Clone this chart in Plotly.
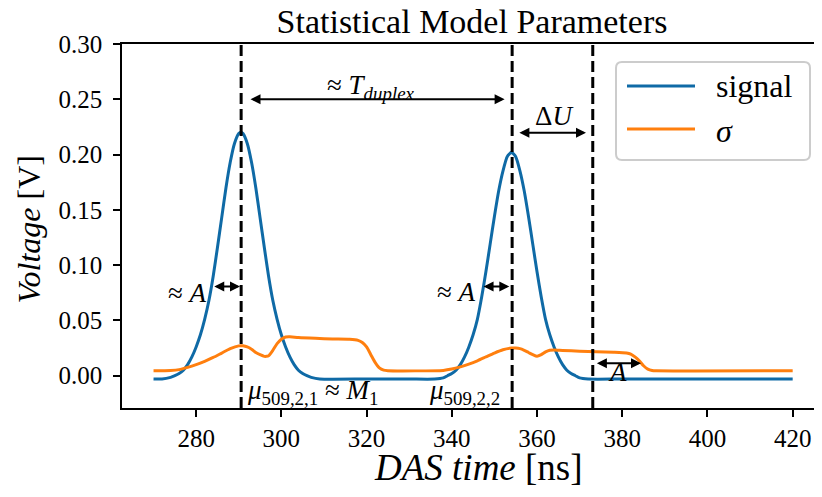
import plotly.graph_objects as go

# ---------------- data ----------------
signal_t = [270, 272, 274, 275, 276, 277, 278, 279, 280, 281, 282, 283, 284, 285, 286, 287, 288, 289,
            290, 290.5, 291, 292, 293, 294, 295, 296, 297, 298, 299, 300, 301, 302, 303, 304, 305, 306,
            307, 309, 320, 330, 336, 338, 339, 340, 341, 342, 343, 344, 345, 346, 347, 348, 349, 350,
            351, 352, 353, 354, 355, 356, 357, 358, 359, 360, 361, 362, 363, 364, 365, 366, 367, 368,
            369, 370, 372, 380, 400, 420]
signal_v = [-0.003, -0.003, -0.0015, 0.000, 0.002, 0.005, 0.010, 0.017, 0.026, 0.037, 0.051, 0.068,
            0.090, 0.116, 0.143, 0.170, 0.193, 0.210, 0.219, 0.2203, 0.219, 0.210, 0.193, 0.170, 0.143,
            0.116, 0.090, 0.068, 0.051, 0.037, 0.026, 0.017, 0.010, 0.005, 0.002, 0.000, -0.0015, -0.003,
            -0.003, -0.003, -0.003, -0.002, 0.000, 0.002, 0.005, 0.010, 0.017, 0.026, 0.037, 0.051,
            0.071, 0.094, 0.119, 0.144, 0.167, 0.185, 0.198, 0.202, 0.198, 0.185, 0.167, 0.144, 0.119,
            0.094, 0.071, 0.051, 0.037, 0.026, 0.017, 0.010, 0.005, 0.002, 0.000, -0.002, -0.003,
            -0.003, -0.003, -0.003]

sigma_t = [270, 274, 276, 278, 280, 282, 284, 286, 288, 290, 291, 292, 293, 294, 295, 296, 296.5, 297,
           298, 299, 300, 301, 302, 304, 308, 312, 316, 318, 319, 320, 321, 322, 323, 324, 325,
           338, 340, 342, 344, 346, 348, 350, 352, 354, 355, 356, 357, 358, 359, 360, 361, 362, 363,
           364, 366, 370, 374, 378, 381, 382, 383, 384, 385, 386, 387, 388, 420]
sigma_v = [0.0045, 0.0048, 0.0055, 0.0075, 0.0100, 0.0130, 0.0165, 0.0205, 0.0245, 0.0270, 0.0270,
           0.0260, 0.0240, 0.0210, 0.0190, 0.0175, 0.0175, 0.0180, 0.0230, 0.0290, 0.0330, 0.0350,
           0.0352, 0.0345, 0.0338, 0.0333, 0.0330, 0.0320, 0.0300, 0.0260, 0.0190, 0.0120, 0.0070,
           0.0050, 0.0045, 0.0048, 0.0060, 0.0080, 0.0105, 0.0135, 0.0170, 0.0205, 0.0235, 0.0250,
           0.0250, 0.0245, 0.0230, 0.0210, 0.0190, 0.0175, 0.0190, 0.0215, 0.0230, 0.0232, 0.0228,
           0.0222, 0.0217, 0.0212, 0.0205, 0.0195, 0.0170, 0.0135, 0.0090, 0.0060, 0.0048, 0.0045,
           0.0045]

vline_t = [290.56, 354.16, 373.08]

x_ticks = [280, 300, 320, 340, 360, 380, 400, 420]
y_ticks = [0.00, 0.05, 0.10, 0.15, 0.20, 0.25, 0.30]
y_tick_text = ["0.00", "0.05", "0.10", "0.15", "0.20", "0.25", "0.30"]

# arrows: (start, end, level)
arrows = [
    (292.4, 352.4, 0.250),   # T_duplex
    (355.5, 371.5, 0.2197),  # Delta U
    (283.9, 290.3, 0.0807),  # A, first peak
    (347.1, 353.5, 0.0807),  # A, second peak
    (373.7, 384.4, 0.0113),  # A, sigma plateau
]

BLUE = "#0f6aa6"
ORANGE = "#ff7f0e"
FONT = "Liberation Serif"

# the page body adds an 8 px offset; layout numbers below are page pixels minus that offset
OFF = 8

fig = go.Figure()
fig.add_trace(go.Scatter(x=signal_t, y=signal_v, mode="lines", name="signal",
                         line=dict(color=BLUE, width=3, shape="spline", smoothing=0.6),
                         showlegend=False))
fig.add_trace(go.Scatter(x=sigma_t, y=sigma_v, mode="lines", name="σ",
                         line=dict(color=ORANGE, width=3, shape="spline", smoothing=0.6),
                         showlegend=False))

shapes = []
for vt in vline_t:
    shapes.append(dict(type="line", xref="x", yref="paper", x0=vt, x1=vt, y0=0, y1=1,
                       line=dict(color="black", width=3, dash="11px,5px"), layer="above"))

# manual legend (paper coordinates), positions given in page pixels
PW, PH, L0, B0 = 700.0, 364.0, 122.0, 408.0
def px(xp):
    return (xp - L0) / PW
def py(yp):
    return (B0 - yp) / PH

x0, x1, y0, y1 = px(616), px(810), py(160), py(62)
rx, ry = 6 / PW, 6 / PH
path = (f"M {x0+rx},{y0} L {x1-rx},{y0} Q {x1},{y0} {x1},{y0+ry} L {x1},{y1-ry} "
        f"Q {x1},{y1} {x1-rx},{y1} L {x0+rx},{y1} Q {x0},{y1} {x0},{y1-ry} L {x0},{y0+ry} "
        f"Q {x0},{y0} {x0+rx},{y0} Z")
shapes.append(dict(type="path", xref="paper", yref="paper", path=path,
                   line=dict(color="#cccccc", width=2), fillcolor="rgba(255,255,255,0.85)",
                   layer="above"))
shapes.append(dict(type="line", xref="paper", yref="paper", x0=px(627), x1=px(695),
                   y0=py(86), y1=py(86), line=dict(color=BLUE, width=3), layer="above"))
shapes.append(dict(type="line", xref="paper", yref="paper", x0=px(627), x1=px(695),
                   y0=py(129), y1=py(129), line=dict(color=ORANGE, width=3), layer="above"))

ann = []
for (a, b, lvl) in arrows:
    ann.append(dict(x=b, y=lvl, ax=a, ay=lvl, xref="x", yref="y", axref="x", ayref="y",
                    text="", showarrow=True, arrowhead=2, arrowsize=1, arrowwidth=2,
                    arrowside="end+start", arrowcolor="black", startarrowhead=2,
                    startarrowsize=1, standoff=0, startstandoff=0))

tf = dict(family=FONT, size=27, color="black")
ann += [
    dict(x=321.1, y=0.2608, xref="x", yref="y", text="≈ <i>T</i><sub><i>duplex</i></sub>",
         showarrow=False, font=tf, xanchor="center", yanchor="middle"),
    dict(x=364.1, y=0.2345, xref="x", yref="y", text="Δ<i>U</i>",
         showarrow=False, font=tf, xanchor="center", yanchor="middle"),
    dict(x=283.0, y=0.0747, xref="x", yref="y", text="≈ <i>A</i>",
         showarrow=False, font=tf, xanchor="right", yanchor="middle"),
    dict(x=346.1, y=0.0753, xref="x", yref="y", text="≈ <i>A</i>",
         showarrow=False, font=tf, xanchor="right", yanchor="middle"),
    dict(x=378.9, y=0.0037, xref="x", yref="y", text="<i>A</i>",
         showarrow=False, font=tf, xanchor="center", yanchor="middle"),
    dict(x=291.4, y=-0.0150, xref="x", yref="y",
         text="<i>μ</i><sub>509,2,1</sub> ≈ <i>M</i><sub>1</sub>",
         showarrow=False, font=tf, xanchor="left", yanchor="middle"),
    dict(x=351.8, y=-0.0150, xref="x", yref="y", text="<i>μ</i><sub>509,2,2</sub>",
         showarrow=False, font=tf, xanchor="right", yanchor="middle"),
    # legend texts
    dict(x=px(714), y=py(86), xref="paper", yref="paper", text="signal", showarrow=False,
         font=dict(family=FONT, size=32, color="black"), xanchor="left", yanchor="middle"),
    dict(x=px(714), y=py(131), xref="paper", yref="paper", text="<i>σ</i>", showarrow=False,
         font=dict(family=FONT, size=32, color="black"), xanchor="left", yanchor="middle"),
    # axis titles
    dict(x=px(28), y=py(229.5), xref="paper", yref="paper", text="<i>Voltage</i> [V]",
         showarrow=False, textangle=-90, font=dict(family=FONT, size=32, color="black"),
         xanchor="center", yanchor="middle"),
    dict(x=px(478), y=py(467), xref="paper", yref="paper", text="<i>DAS time</i> [ns]",
         showarrow=False, font=dict(family=FONT, size=37, color="black"),
         xanchor="center", yanchor="middle"),
]

x_lo = 262.6
x_hi = x_lo + PW / 4.261

fig_w = 822 - OFF
fig_h = 497 - OFF

fig.update_layout(
    width=fig_w, height=fig_h,
    margin=dict(l=int(L0 - OFF), r=0, t=int(44 - OFF), b=int(497 - B0), autoexpand=False),
    paper_bgcolor="white", plot_bgcolor="white",
    title=dict(text="Statistical Model Parameters", x=0.5, xref="paper", xanchor="center",
               y=1 - (21 - OFF) / fig_h, yref="container", yanchor="middle",
               font=dict(family=FONT, size=34, color="black")),
    shapes=shapes, annotations=ann, showlegend=False,
    xaxis=dict(range=[x_lo, x_hi], tickvals=x_ticks, ticks="outside", ticklen=7, tickwidth=1.5,
               tickcolor="black", showline=True, linecolor="black", linewidth=1.5, mirror=True,
               showgrid=False, zeroline=False, automargin=False,
               tickfont=dict(family=FONT, size=25, color="black")),
    yaxis=dict(range=[-0.0292, 0.30], tickvals=y_ticks, ticktext=y_tick_text, ticks="outside",
               ticklen=7, tickwidth=1.5, tickcolor="black", showline=True, linecolor="black",
               linewidth=1.5, mirror=False, showgrid=False, zeroline=False, automargin=False,
               tickfont=dict(family=FONT, size=25, color="black"), ticklabelstandoff=6),
)

fig.write_html("out.html")
